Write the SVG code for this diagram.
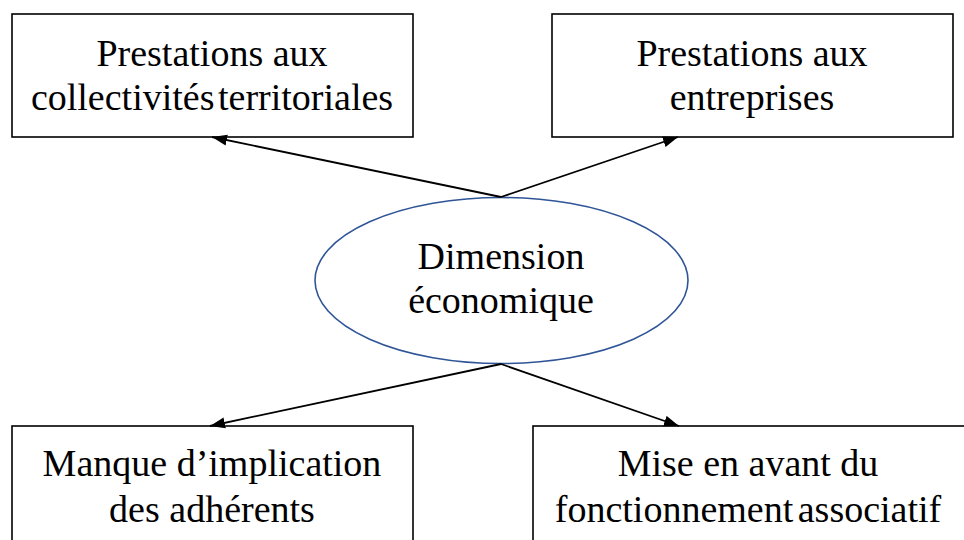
<svg xmlns="http://www.w3.org/2000/svg" width="964" height="540" viewBox="0 0 964 540">
<style>
.box{fill:#fff;stroke:#000;stroke-width:1.6}
.ell{fill:#fff;stroke:#2F5597;stroke-width:1.6}
.t{font-family:"Liberation Serif","Times New Roman",serif;font-size:38px;fill:#000;text-anchor:middle}
.c{stroke:#000;stroke-width:1.8;fill:none;marker-end:url(#ah)}
</style>
<defs>
<marker id="ah" markerUnits="userSpaceOnUse" markerWidth="16" markerHeight="12" refX="15" refY="6" orient="auto">
<path d="M0,0.5 L15,6 L0,11.5 Z" fill="#000"/>
</marker>
</defs>
<rect width="964" height="540" fill="#fff"/>
<g id="n-collectivites">
<rect class="box" x="12" y="14" width="401" height="123"/>
<text class="t" x="212" y="66">Prestations aux</text>
<text class="t" x="212" y="110" word-spacing="-6">collectivités territoriales</text>
</g>
<g id="n-entreprises">
<rect class="box" x="552" y="14" width="401" height="123"/>
<text class="t" x="752" y="66">Prestations aux</text>
<text class="t" x="752" y="110">entreprises</text>
</g>
<g id="n-dimension">
<ellipse class="ell" cx="501.5" cy="280.5" rx="186.5" ry="83"/>
<text class="t" x="501" y="269">Dimension</text>
<text class="t" x="501" y="313">économique</text>
</g>
<g id="n-manque">
<rect class="box" x="12" y="426" width="401" height="130"/>
<text class="t" x="212" y="476">Manque d’implication</text>
<text class="t" x="212" y="522">des adhérents</text>
</g>
<g id="n-mise">
<rect class="box" x="533" y="426" width="440" height="130"/>
<text class="t" x="748" y="476">Mise en avant du</text>
<text class="t" x="748" y="522" word-spacing="-5">fonctionnement associatif</text>
</g>
<g id="connectors">
<line class="c" x1="501" y1="197" x2="212" y2="137"/>
<line class="c" x1="501" y1="197" x2="678" y2="137"/>
<line class="c" x1="501" y1="364" x2="210" y2="426"/>
<line class="c" x1="501" y1="364" x2="679" y2="426"/>
</g>
</svg>
